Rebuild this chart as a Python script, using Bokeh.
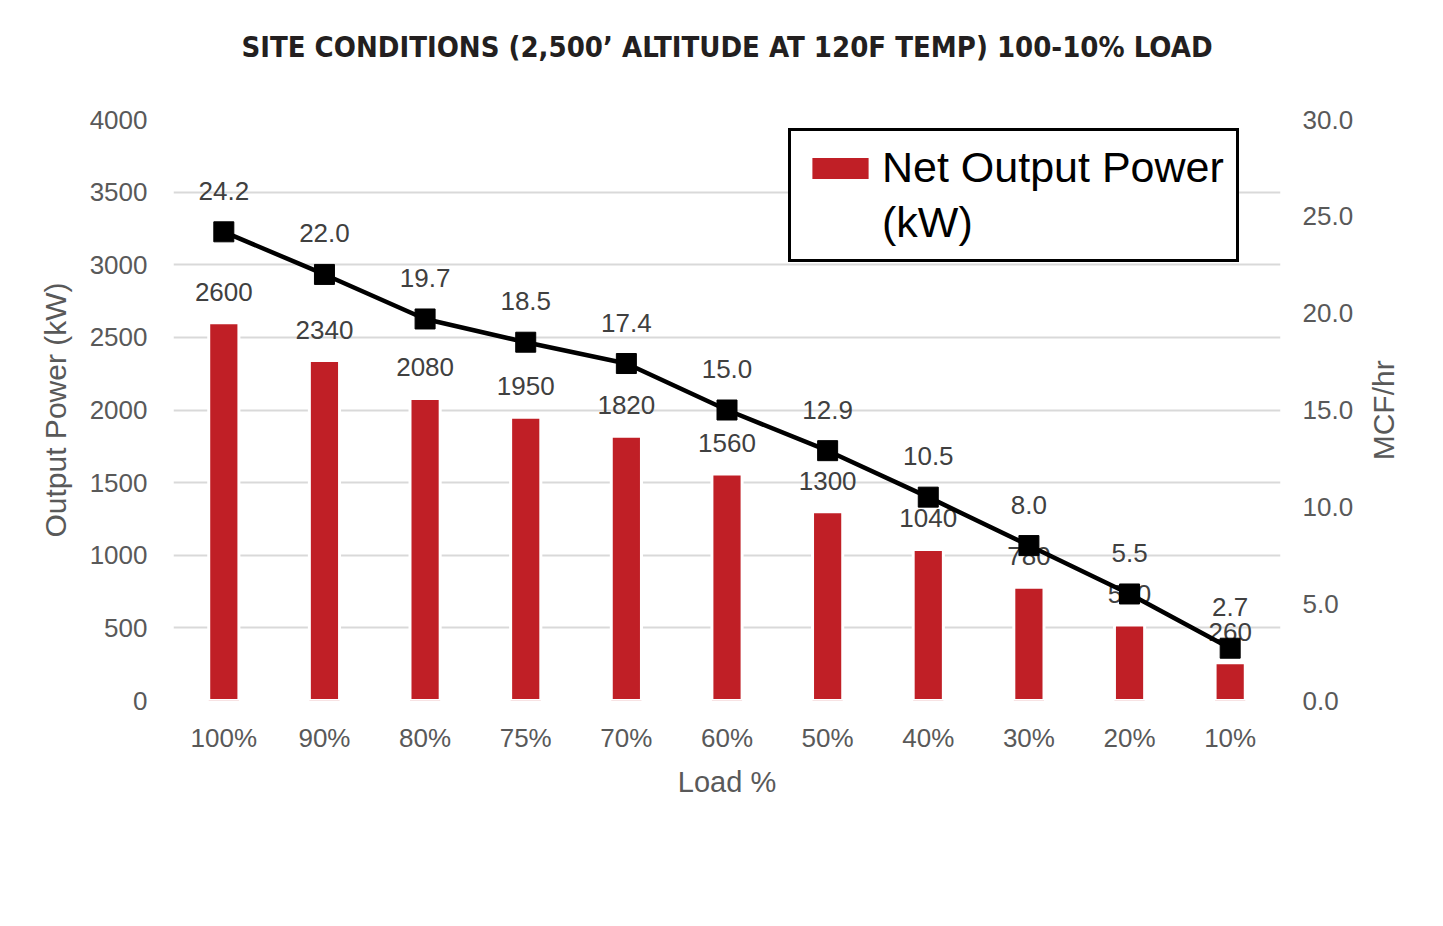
import math
from bokeh.plotting import figure
from bokeh.models import (ColumnDataSource, Range1d, LinearAxis, FixedTicker,
                          NumeralTickFormatter, Legend, LegendItem, FactorRange,
                          Title, CustomJSTickFormatter)
from bokeh.core.properties import value
from bokeh.embed import file_html
from bokeh.resources import INLINE

# ---- data ----
loads = ["100%", "90%", "80%", "75%", "70%", "60%", "50%", "40%", "30%", "20%", "10%"]
power_kw = [2600, 2340, 2080, 1950, 1820, 1560, 1300, 1040, 780, 520, 260]
mcf_hr = [24.2, 22.0, 19.7, 18.5, 17.4, 15.0, 12.9, 10.5, 8.0, 5.5, 2.7]
left_ticks = [0, 500, 1000, 1500, 2000, 2500, 3000, 3500, 4000]
right_ticks = [0, 5, 10, 15, 20, 25, 30]
title_text = "SITE CONDITIONS (2,500\u2019 ALTITUDE AT 120F TEMP) 100-10% LOAD"

FONT = "Liberation Sans"
RED = "#C01F26"
TICK_COLOR = "#595959"
LABEL_COLOR = "#404040"

src = ColumnDataSource(dict(
    load=loads,
    power=power_kw,
    mcf=mcf_hr,
    power_txt=[str(v) for v in power_kw],
    mcf_txt=["%.1f" % v for v in mcf_hr],
))

p = figure(
    width=1435, height=918, title=None,
    x_range=FactorRange(*loads, range_padding=0),
    y_range=Range1d(0, 4000),
    output_backend="svg", toolbar_location=None,
    min_border_left=173, min_border_right=155,
    min_border_top=119, min_border_bottom=218,
)
p.outline_line_color = None
p.background_fill_color = "white"
p.border_fill_color = "white"

# spacer between frame and title, then the title itself
p.add_layout(Title(text=" ", text_font_size="1px", standoff=51), "above")
p.add_layout(Title(text=title_text, align="center", standoff=4,
                   text_font="DejaVu Sans Condensed", text_font_style="bold",
                   text_font_size="29px", text_color="#231f20"), "above")

# secondary axis
p.extra_y_ranges = {"mcf": Range1d(0, 30)}
raxis = LinearAxis(y_range_name="mcf")
p.add_layout(raxis, "right")

for ax in [p.yaxis[0], raxis]:
    ax.axis_line_color = None
    ax.major_tick_line_color = None
    ax.minor_tick_line_color = None
    ax.major_label_text_font = FONT
    ax.major_label_text_font_size = "26px"
    ax.major_label_text_color = TICK_COLOR
    ax.axis_label_text_font = FONT
    ax.axis_label_text_font_size = "30px"
    ax.axis_label_text_font_style = "normal"
    ax.axis_label_text_color = TICK_COLOR

p.yaxis[0].ticker = FixedTicker(ticks=left_ticks)
p.yaxis[0].axis_label = "Output Power (kW)"
p.yaxis[0].major_label_standoff = 20
p.yaxis[0].axis_label_standoff = 15

raxis.ticker = FixedTicker(ticks=right_ticks)
raxis.formatter = NumeralTickFormatter(format="0.0")
raxis.major_label_standoff = 16

# right-hand axis title "MCF/hr", reading bottom to top
rtitle = LinearAxis(y_range_name="mcf", ticker=FixedTicker(ticks=[12.4]),
                    formatter=CustomJSTickFormatter(code="return 'MCF/hr'"))
rtitle.axis_line_color = None
rtitle.major_tick_line_color = None
rtitle.minor_tick_line_color = None
rtitle.major_label_orientation = math.pi / 2
rtitle.major_label_standoff = 21
rtitle.major_label_text_font = FONT
rtitle.major_label_text_font_size = "30px"
rtitle.major_label_text_color = TICK_COLOR
p.add_layout(rtitle, "right")

xa = p.xaxis[0]
xa.axis_line_color = None
xa.major_tick_line_color = None
xa.major_label_text_font = FONT
xa.major_label_text_font_size = "26px"
xa.major_label_text_color = TICK_COLOR
xa.major_label_standoff = 16
xa.axis_label = "Load %"
xa.axis_label_text_font = FONT
xa.axis_label_text_font_size = "29px"
xa.axis_label_text_font_style = "normal"
xa.axis_label_text_color = TICK_COLOR
xa.axis_label_standoff = 10

p.xgrid.grid_line_color = None
p.ygrid.grid_line_color = "#d9d9d9"
p.ygrid.grid_line_width = 2

# bars
bars = p.vbar(x="load", top="power", width=0.3, source=src,
              fill_color=RED, line_color="white", line_width=3)

# bar labels
p.text(x="load", y="power", text="power_txt", source=src,
       text_font=value(FONT), text_font_size="26px", text_color=LABEL_COLOR,
       text_align="center", text_baseline="middle", y_offset=-31)

# line + markers
p.line(x="load", y="mcf", source=src, y_range_name="mcf",
       line_color="black", line_width=4.5)
p.scatter(x="load", y="mcf", source=src, y_range_name="mcf", marker="square",
          size=20, fill_color="black", line_color="black")

# line labels
p.text(x="load", y="mcf", text="mcf_txt", source=src, y_range_name="mcf",
       text_font=value(FONT), text_font_size="26px", text_color=LABEL_COLOR,
       text_align="center", text_baseline="middle", y_offset=-41)

legend = Legend(
    items=[LegendItem(label="Net Output Power", renderers=[bars]),
           LegendItem(label="(kW)", renderers=[])],
    location=(615, 438),
    label_text_font=FONT, label_text_font_size="43px", label_text_color="black",
    glyph_width=74, glyph_height=30,
    border_line_color="black", border_line_width=3, border_line_alpha=1,
    padding=12, margin=0, label_standoff=5, spacing=6,
    background_fill_color="white", background_fill_alpha=1,
)
p.add_layout(legend, "center")

open("out.html", "w").write(file_html(p, INLINE))
